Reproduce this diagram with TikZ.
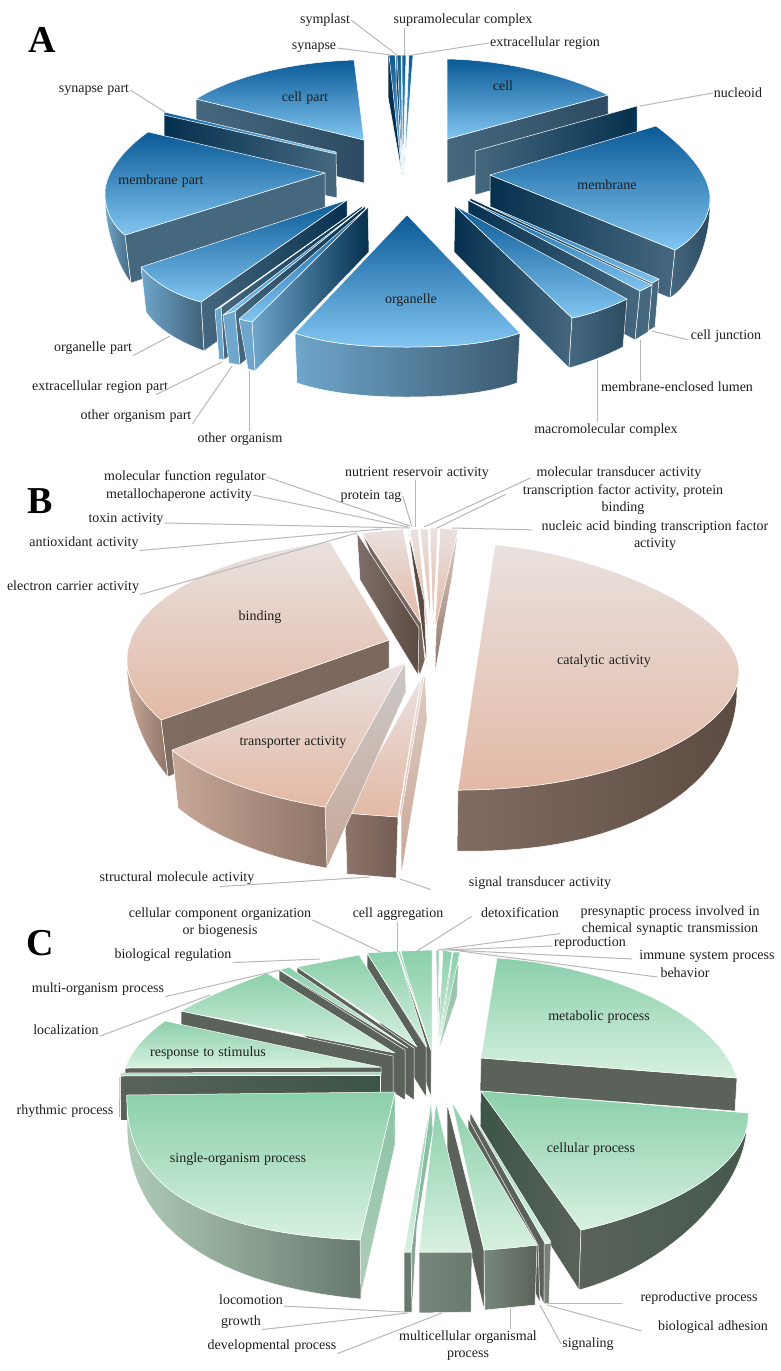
\documentclass[tikz,border=0pt]{standalone}
\usepackage{fontspec}
\setmainfont[WordSpace=1.2]{Liberation Serif}
\definecolor{txt}{HTML}{1E1E1E}
\tikzset{
  lab/.style={inner sep=1pt,text=txt,align=center,font=\fontsize{14}{17}\selectfont},
  big/.style={inner sep=0pt,text=black,font=\fontsize{38}{38}\selectfont\bfseries},
  lead/.style={draw=black!28,line width=1pt},
  face/.style={draw=white,line width=.5pt,line join=round},
  % panel A
  tA/.style={face,top color=A1,bottom color=A2},
  sA/.style={face,left color=#1,right color=A5},
  sA/.default=A4,
  dA/.style={face,left color=A3,middle color=A6,right color=A4},
  oA/.style={face,left color=A7,right color=A8},
  % panel B
  tB/.style={face,top color=B1,bottom color=B2},
  dB/.style={face,left color=B3,right color=B3!85!B4},
  oB/.style={face,left color=B5,right color=B6},
  % panel C
  tC/.style={face,top color=C1,bottom color=C2},
  dC/.style={face,left color=C3,right color=C4},
  oC/.style={face,left color=C5,right color=C6},
}
\definecolor{A1}{HTML}{0A5A96}\definecolor{A2}{HTML}{82C6F2}
\definecolor{A3}{HTML}{05304E}\definecolor{A4}{HTML}{46687F}\definecolor{A5}{HTML}{2C4B62}
\definecolor{A6}{HTML}{14405E}\definecolor{A7}{HTML}{6FA6CB}\definecolor{A8}{HTML}{3B5A70}
\definecolor{B1}{HTML}{E9E1DF}\definecolor{B2}{HTML}{E3B9A5}\definecolor{B3}{HTML}{816C61}
\definecolor{B4}{HTML}{5C4B42}\definecolor{B5}{HTML}{C8A898}\definecolor{B6}{HTML}{8E7468}
\definecolor{C1}{HTML}{8BCFAB}\definecolor{C2}{HTML}{D7F1DF}\definecolor{C3}{HTML}{3B5546}
\definecolor{C4}{HTML}{5A6259}\definecolor{C5}{HTML}{B0CDB9}\definecolor{C6}{HTML}{68796E}
\begin{document}
\begin{tikzpicture}[x=1pt,y=-1pt]
\useasboundingbox (0,0) rectangle (781,1371);
\fill[white] (0,0) rectangle (781,1371);

%% ============ PANEL A ============
% cell part
\path[sA=A4] (196,99) -- (364,140) -- (364,183) -- (196,143) -- cycle;
\path[tA] (354,60) .. controls (295,62) and (235,75) .. (196,99) -- (364,140) -- cycle;
% synapse part
\path[dA] (164,114) -- (336,153) -- (337,198) -- (164,160) -- cycle;
\path[tA] (164,112) -- (336,152) -- (336,154) -- (164,115) -- cycle;
% cell
\path[sA=A4] (447,139) -- (608,95) -- (608,139) -- (447,183) -- cycle;
\path[tA] (447,59) .. controls (505,60) and (565,75) .. (608,95) -- (447,139) -- cycle;
% nucleoid
\path[face,left color=A4,middle color=A3,right color=A3] (475,151) -- (637,106) -- (637,150) -- (475,195) -- cycle;
% thin top slivers
\path[face,fill=A3] (388,55) -- (388,97) -- (402,175) -- (392,55) -- cycle;
\path[tA] (389,55) -- (395,55) -- (402,175) -- cycle;
\path[face,fill=A6] (396,55) -- (396,80) -- (403,175) -- (398,55) -- cycle;
\path[tA] (397,55) -- (401,55) -- (403,175) -- cycle;
\path[tA] (402,55) -- (406,55) -- (403,175) -- cycle;
\path[tA] (409,55) -- (413,55) -- (404,175) -- cycle;
% membrane
\path[dA] (490,175) -- (675,250) -- (670,298) -- (490,222) -- cycle;
\path[face,left color=A4,right color=A5] (710,198) .. controls (710,220) and (695,238) .. (675,250) -- (670,298) .. controls (695,282) and (710,240) .. (710,205) -- cycle;
\path[tA] (656,126) .. controls (695,155) and (710,180) .. (710,198) .. controls (710,220) and (695,238) .. (675,250) -- (490,175) -- cycle;
% cell junction
\path[dA] (470,198) -- (652,283) -- (648,331) -- (470,245) -- cycle;
\path[face,fill=A4] (652,283) -- (659,279) -- (655,327) -- (648,331) -- cycle;
\path[tA] (470,198) -- (659,279) -- (652,283) -- cycle;
% lumen
\path[dA] (468,200) -- (640,291) -- (635,340) -- (468,250) -- cycle;
\path[face,fill=A4] (640,291) -- (652,285) -- (648,332) -- (635,340) -- cycle;
\path[tA] (468,200) -- (652,285) -- (640,291) -- cycle;
% macromolecular complex
\path[dA] (455,206) -- (572,318) -- (569,368) -- (454,252) -- cycle;
\path[face,left color=A4,right color=A5] (572,318) .. controls (592,314) and (610,307) .. (627,299) -- (623,347) .. controls (605,356) and (590,362) .. (569,368) -- cycle;
\path[tA] (572,318) .. controls (592,314) and (610,307) .. (627,299) -- (455,206) -- cycle;
% membrane part
\path[face,left color=A7,right color=A4] (105,193) .. controls (105,210) and (112,225) .. (125,235) -- (131,283) .. controls (115,262) and (105,225) .. (105,200) -- cycle;
\path[face,left color=A4,middle color=A6,right color=A4] (125,235) -- (325,173) -- (325,220) -- (131,283) -- cycle;
\path[tA] (148,132) .. controls (120,152) and (105,175) .. (105,193) .. controls (105,210) and (112,225) .. (125,235) -- (325,173) -- cycle;
% organelle part
\path[face,left color=A4,right color=A3] (201,302) -- (347,200) -- (347,250) -- (204,351) -- cycle;
\path[face,left color=A7,right color=A8!90!A7] (141,267) .. controls (155,283) and (175,295) .. (201,302) -- (204,351) .. controls (180,342) and (158,330) .. (146,312) -- cycle;
\path[tA] (141,267) .. controls (155,283) and (175,295) .. (201,302) -- (347,200) -- cycle;
% extracellular region part
\path[face,left color=A4,right color=A3] (221,307) -- (362,206) -- (362,256) -- (224,360) -- cycle;
\path[face,fill=A7] (215,310) -- (221,307) -- (224,360) -- (219,359) -- cycle;
\path[tA] (215,310) -- (221,307) -- (362,206) -- cycle;
% other organism part
\path[face,left color=A4,right color=A3] (235,311) -- (365,206) -- (365,256) -- (240,365) -- cycle;
\path[face,fill=A7] (223,315) -- (235,311) -- (240,365) -- (229,363) -- cycle;
\path[tA] (223,315) -- (235,311) -- (365,206) -- cycle;
% other organism
\path[face,left color=A7,right color=A3] (252,322) -- (368,207) -- (369,252) -- (255,371) -- cycle;
\path[face,fill=A7] (239,319) -- (252,322) -- (255,371) -- (248,369) -- cycle;
\path[tA] (239,319) -- (252,322) -- (368,207) -- cycle;
% organelle
\path[oA] (295,333) .. controls (330,345) and (370,347) .. (407,347) .. controls (445,347) and (485,345) .. (520,333) -- (517,383) .. controls (485,394) and (445,397) .. (407,397) .. controls (370,397) and (330,394) .. (297,383) -- cycle;
\path[tA] (295,333) .. controls (330,345) and (370,347) .. (407,347) .. controls (445,347) and (485,345) .. (520,333) -- (407,215) -- cycle;

\node[big] (lA) at (42,40) {A};
\node[lab] (aSymplast) at (325,20) {symplast};
\node[lab] (aSupra) at (463,20) {supramolecular complex};
\node[lab] (aSynapse) at (314,48) {synapse};
\node[lab] (aExtra) at (545,43) {extracellular region};
\node[lab] (aCellPart) at (305,98) {cell part};
\node[lab] (aCell) at (503,86) {cell};
\node[lab] (aSynPart) at (94,90) {synapse part};
\node[lab] (aNucleoid) at (738,93) {nucleoid};
\node[lab] (aMemPart) at (161,181) {membrane part};
\node[lab] (aMem) at (607,185) {membrane};
\node[lab] (aOrg) at (411,300) {organelle};
\node[lab] (aOrgPart) at (93,348) {organelle part};
\node[lab] (aExtPart) at (100,387) {extracellular region part};
\node[lab] (aOthPart) at (136,416) {other organism part};
\node[lab] (aOth) at (240,439) {other organism};
\node[lab] (aJunc) at (726,336) {cell junction};
\node[lab] (aLumen) at (677,387) {membrane-enclosed lumen};
\node[lab] (aMacro) at (606,430) {macromolecular complex};

\coordinate (paSymplast) at (397,55);
\coordinate (paSupra) at (404,55);
\coordinate (paSynapse) at (391,55);
\coordinate (paExtra) at (412,55);
\coordinate (paSynPart) at (165,112);
\coordinate (paNucleoid) at (640,106);
\coordinate (paOrgPart) at (170,336);
\coordinate (paExtPart) at (222,362);
\coordinate (paOthPart) at (232,366);
\coordinate (paOth) at (249,371);
\coordinate (paJunc) at (652,331);
\coordinate (paLumen) at (640,340);
\coordinate (paMacro) at (597,360);
\draw[lead] (aSymplast.east) -- (paSymplast);
\draw[lead] (paSupra |- aSupra.south) -- (paSupra);
\draw[lead] (aSynapse.east) -- (paSynapse);
\draw[lead] (aExtra.west) -- (paExtra);
\draw[lead] (aSynPart.east) -- (paSynPart);
\draw[lead] (aNucleoid.west) -- (paNucleoid);
\draw[lead] (aOrgPart.south east) -- (paOrgPart);
\draw[lead] (aExtPart.south east) ++(-13,0) -- (paExtPart);
\draw[lead] (aOthPart.south east) -- (paOthPart);
\draw[lead] (paOth |- aOth.north) -- (paOth);
\draw[lead] (aJunc.west) ++(-1,4) -- (paJunc);
\draw[lead] (paLumen |- aLumen.north) -- (paLumen);
\draw[lead] (paMacro |- aMacro.north) -- (paMacro);

%% ============ PANEL B ============
% right slivers
\path[face,top color=B5!60!white,bottom color=B6] (458,533) -- (452,577) -- (435,673) -- (437,600) -- cycle;
\path[tB] (440,528) -- (458,530) -- (435,630) -- cycle;
\path[tB] (430,528) -- (438,528) -- (433,625) -- cycle;
\path[tB] (420,529) -- (428,529) -- (431,625) -- cycle;
\path[tB] (410,530) -- (418,529) -- (429,640) -- cycle;
\path[face,fill=B4] (408,530) -- (418,600) -- (427,667) -- (424,600) -- cycle;
% antioxidant, electron carrier
\path[face,fill=B4!85!white] (362,533) -- (421,623) -- (425,660) -- (420,675) -- cycle;
\path[tB] (362,533) -- (403,529) -- (421,623) -- cycle;
\path[face,left color=B4!80!white,right color=B4] (357,533) -- (360,580) -- (418,675) -- (419,628) -- cycle;
% binding
\path[dB] (161,720) -- (389,640) -- (389,668) -- (168,777) -- cycle;
\path[oB] (127,660) .. controls (127,685) and (145,705) .. (161,720) -- (168,777) .. controls (145,750) and (127,710) .. (127,665) -- cycle;
\path[tB] (330,542) .. controls (220,555) and (127,600) .. (127,660) .. controls (127,685) and (145,705) .. (161,720) -- (389,640) -- cycle;
% signal transducer
\path[face,top color=B5!60!white,bottom color=B5] (425,672) -- (427,720) -- (401,877) -- (401,815) -- cycle;
% structural molecule
\path[tB] (425,672) -- (401,815) -- (399,817) -- (421,680) -- cycle;
\path[face,left color=B6,right color=B6!80!black] (345,813) -- (398,817) -- (396,878) -- (347,874) -- cycle;
\path[tB] (345,813) -- (398,817) -- (421,678) -- cycle;
% transporter
\path[face,top color=B1!50!gray!70!white,bottom color=B5] (405,663) -- (406,692) -- (327,868) -- (325,807) -- cycle;
\path[face,left color=B5,right color=B6] (172,750) .. controls (210,780) and (265,797) .. (325,807) -- (327,868) .. controls (265,858) and (210,835) .. (178,808) -- cycle;
\path[tB] (172,750) .. controls (210,780) and (265,797) .. (325,807) -- (405,663) -- cycle;
% catalytic
\path[face,left color=B3,middle color=B4,right color=B4] (739,672) .. controls (739,725) and (630,790) .. (458,790) -- (457,851) .. controls (630,855) and (737,785) .. (737,690) -- cycle;
\path[tB] (495,545) .. controls (590,552) and (739,610) .. (739,672) .. controls (739,725) and (630,790) .. (458,790) -- (472,695) -- cycle;

\node[big] (lB) at (40,501) {B};
\node[lab] (bRegul) at (185,477) {molecular function regulator};
\node[lab] (bMetal) at (179,495) {metallochaperone activity};
\node[lab] (bNutr) at (417,473) {nutrient reservoir activity};
\node[lab] (bTag) at (371,496) {protein tag};
\node[lab] (bTrans) at (619,473) {molecular transducer activity};
\node[lab] (bTF) at (623,499.5) {transcription factor activity, protein\\binding};
\node[lab] (bNuc) at (655,536) {nucleic acid binding transcription factor\\activity};
\node[lab] (bToxin) at (126,519) {toxin activity};
\node[lab] (bAnti) at (84,543) {antioxidant activity};
\node[lab] (bElec) at (73,587) {electron carrier activity};
\node[lab] (bBind) at (260,617) {binding};
\node[lab] (bCat) at (604,661) {catalytic activity};
\node[lab] (bTransp) at (293,742) {transporter activity};
\node[lab] (bStruct) at (177,878) {structural molecule activity};
\node[lab] (bSignal) at (540,883) {signal transducer activity};

\coordinate (pbRegul) at (410,526);
\coordinate (pbMetal) at (408,527);
\coordinate (pbTag) at (412,527);
\coordinate (pbNutr) at (415,527);
\coordinate (pbTrans) at (424,527);
\coordinate (pbTF) at (437,528);
\coordinate (pbNuc) at (452,528);
\coordinate (pbToxin) at (410,528);
\coordinate (pbAnti) at (382,529);
\coordinate (pbElec) at (357,533);
\coordinate (pbStruct) at (370,877);
\coordinate (pbSignal) at (400,879);
\draw[lead] (bRegul.east) -- (pbRegul);
\draw[lead] (bMetal.east) -- (pbMetal);
\draw[lead] (bTag.east) -- (pbTag);
\draw[lead] (pbNutr |- bNutr.south) -- (pbNutr);
\draw[lead] (bTrans.west) ++(-5,5) -- (pbTrans);
\draw[lead] (bTF.north west) ++(-16,11) -- (pbTF);
\draw[lead] (bNuc.north west) ++(-8,10) -- (pbNuc);
\draw[lead] (bToxin.east) ++(0,4) -- (pbToxin);
\draw[lead] (bAnti.south east) -- (pbAnti);
\draw[lead] (bElec.south east) -- (pbElec);
\draw[lead] (bStruct.south) ++(43,1) -- (pbStruct);
\draw[lead] (bSignal.south west) ++(-37,-1) -- (pbSignal);

%% ============ PANEL C ============
% right top slivers
\path[face,top color=C1!80!gray,bottom color=C5] (459,953) -- (457,997) -- (440,1047) -- (438,1000) -- cycle;
\path[tC] (453,952) -- (460,952) -- (439,1047) -- cycle;
\path[tC] (443,950) -- (452,952) -- (438,1047) -- cycle;
\path[tC] (436,950) -- (439,950) -- (438,1047) -- cycle;
% detoxification
\path[tC] (401,951) -- (432,950) -- (432,1077) -- cycle;
% cell aggregation
\path[face,fill=C4] (397,952) -- (431,1050) -- (431,1097) -- (397,1000) -- cycle;
\path[tC] (398,951) -- (400,951) -- (431,1050) -- cycle;
% cellular component organisation
\path[face,fill=C4] (367,953) -- (426,1047) -- (426,1097) -- (367,1003) -- cycle;
\path[tC] (367,953) -- (397,951) -- (427,1047) -- cycle;
% biological regulation
\path[face,fill=C4] (297,967) -- (414,1048) -- (414,1100) -- (297,1017) -- cycle;
\path[tC] (297,967) -- (359,955) -- (417,1047) -- cycle;
% multi-organism
\path[face,fill=C4] (279,970) -- (405,1050) -- (405,1100) -- (279,1020) -- cycle;
\path[tC] (280,970) -- (289,967) -- (408,1048) -- cycle;
% localization
\path[face,fill=C4] (181,1011) -- (393,1056) -- (393,1101) -- (181,1056) -- cycle;
\path[tC] (267,973) .. controls (240,983) and (205,997) .. (181,1011) -- (395,1053) -- cycle;
% rhythmic
\path[face,left color=C4,right color=C3] (120,1075) -- (380,1075) -- (380,1120) -- (120,1120) -- cycle;
\path[tC] (120,1073) -- (381,1072) -- (381,1075) -- (120,1076) -- cycle;
% response to stimulus
\path[face,fill=C4] (125,1068) -- (381,1067) -- (381,1072) -- (125,1073) -- cycle;
\path[tC] (165,1021) .. controls (145,1035) and (132,1050) .. (125,1068) -- (380,1067) -- cycle;
% metabolic
\path[face,fill=C4] (481,1058) -- (737,1078) -- (735,1111) -- (480,1091) -- cycle;
\path[tC] (497,958) .. controls (600,965) and (715,1010) .. (737,1078) -- (481,1058) -- cycle;
% cellular
\path[dC] (481,1091) -- (581,1230) -- (579,1290) -- (480,1135) -- cycle;
\path[face,left color=C4,right color=C3!70!C4] (748,1113) .. controls (752,1165) and (670,1210) .. (581,1230) -- (579,1290) .. controls (670,1265) and (745,1190) .. (747,1125) -- cycle;
\path[tC] (748,1113) .. controls (752,1165) and (670,1210) .. (581,1230) -- (481,1091) -- cycle;
% reproductive process / signaling
\path[face,fill=C4] (470,1112) -- (545,1243) -- (544,1304) -- (470,1150) -- cycle;
\path[face,fill=C4!80!white] (544,1244) -- (551,1243) -- (549,1303) -- (544,1304) -- cycle;
\path[tC] (470,1110) -- (551,1242) -- (545,1243) -- cycle;
\path[face,fill=C4] (468,1118) -- (538,1245) -- (540,1303) -- (468,1150) -- cycle;
% multicellular organismal
\path[face,fill=C4] (447,1103) -- (484,1250) -- (484,1310) -- (447,1150) -- cycle;
\path[face,left color=C6!90!white,right color=C4] (484,1250) -- (537,1245) -- (535,1305) -- (485,1310) -- cycle;
\path[tC] (484,1250) .. controls (502,1249) and (520,1247) .. (537,1245) -- (452,1102) -- cycle;
% developmental
\path[face,left color=C6!90!white,right color=C6] (419,1252) -- (472,1252) -- (471,1312) -- (419,1313) -- cycle;
\path[tC] (419,1252) -- (472,1252) -- (436,1103) -- cycle;
% growth / locomotion
\path[face,top color=C1,bottom color=C6!80!white] (411,1252) -- (412,1312) -- (417,1225) -- (433,1130) -- (431,1100) -- cycle;
\path[face,fill=C6] (404,1252) -- (411,1252) -- (412,1312) -- (404,1312) -- cycle;
\path[tC] (404,1252) -- (411,1252) -- (431,1100) -- cycle;
% single-organism
\path[face,top color=C1!85!gray,bottom color=C5] (395,1092) -- (395,1145) -- (360,1299) -- (360,1240) -- cycle;
\path[oC] (127,1095) .. controls (125,1180) and (190,1232) .. (360,1240) -- (361,1299) .. controls (210,1285) and (127,1225) .. (127,1125) -- cycle;
\path[tC] (395,1092) -- (127,1095) .. controls (125,1180) and (190,1232) .. (360,1240) -- cycle;

\node[big] (lC) at (40,943) {C};
\node[lab] (cComp) at (220,923) {cellular component organization\\or biogenesis};
\node[lab] (cAgg) at (398,914) {cell aggregation};
\node[lab] (cDetox) at (520,913) {detoxification};
\node[lab] (cPres) at (670,920.5) {presynaptic process involved in\\chemical synaptic transmission};
\node[lab] (cRepro) at (590,943) {reproduction};
\node[lab] (cImm) at (707,956) {immune system process};
\node[lab] (cBehav) at (685,973) {behavior};
\node[lab] (cBio) at (173,955) {biological regulation};
\node[lab] (cMulti) at (98,989) {multi-organism process};
\node[lab] (cLocal) at (66,1030) {localization};
\node[lab] (cResp) at (208,1053) {response to stimulus};
\node[lab] (cRhyth) at (65,1111) {rhythmic process};
\node[lab] (cMetab) at (599,1017) {metabolic process};
\node[lab] (cCell) at (591,1149) {cellular process};
\node[lab] (cSingle) at (238,1159) {single-organism process};
\node[lab] (cLoco) at (251,1300) {locomotion};
\node[lab] (cGrowth) at (241,1322) {growth};
\node[lab] (cDev) at (272,1346) {developmental process};
\node[lab] (cMcell) at (468,1345.5) {multicellular organismal\\process};
\node[lab] (cSign) at (588,1344) {signaling};
\node[lab] (cRepr) at (699,1298) {reproductive process};
\node[lab] (cAdh) at (713,1327) {biological adhesion};

\coordinate (pcComp) at (381,952);
\coordinate (pcAgg) at (397,952);
\coordinate (pcDetox) at (417,951);
\coordinate (pcPres) at (438,950);
\coordinate (pcRepro) at (442,950);
\coordinate (pcImm) at (450,950);
\coordinate (pcBehav) at (460,951);
\coordinate (pcBio) at (320,959);
\coordinate (pcMulti) at (280,970);
\coordinate (pcLocal) at (210,995);
\coordinate (pcRhyth) at (120,1077);
\coordinate (pcLoco) at (405,1312);
\coordinate (pcGrowth) at (408,1313);
\coordinate (pcDev) at (442,1313);
\coordinate (pcMcell) at (510,1308);
\coordinate (pcSign) at (540,1305);
\coordinate (pcRepr) at (547,1303);
\coordinate (pcAdh) at (547,1305);
\draw[lead] (cComp.north east) ++(0,13) -- (pcComp);
\draw[lead] (pcAgg |- cAgg.south) -- (pcAgg);
\draw[lead] (cDetox.south west) ++(-8,-3) -- (pcDetox);
\draw[lead] (cPres.south west) ++(-19,-3) -- (pcPres);
\draw[lead] (cRepro.west) ++(-1,3) -- (pcRepro);
\draw[lead] (cImm.west) ++(-6,3) -- (pcImm);
\draw[lead] (cBehav.west) ++(-2,4) -- (pcBehav);
\draw[lead] (cBio.south east) -- (pcBio);
\draw[lead] (cMulti.south east) -- (pcMulti);
\draw[lead] (cLocal.south east) -- (pcLocal);
\draw[lead] (cRhyth.east) ++(5,6) -- (pcRhyth);
\draw[lead] (cLoco.south east) -- (pcLoco);
\draw[lead] (cGrowth.south east) -- (pcGrowth);
\draw[lead] (cDev.south east) -- (pcDev);
\draw[lead] (pcMcell |- cMcell.north) -- (pcMcell);
\draw[lead] (cSign.west) -- (pcSign);
\draw[lead] (cRepr.west) ++(-17,5) -- (pcRepr);
\draw[lead] (cAdh.west) ++(-15,4) -- (pcAdh);
\end{tikzpicture}
\end{document}
